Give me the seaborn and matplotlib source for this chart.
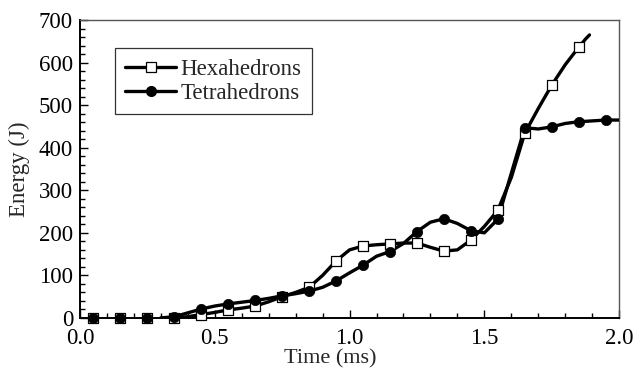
import matplotlib
matplotlib.use("Agg")
import matplotlib.pyplot as plt
from matplotlib.lines import Line2D
from matplotlib.ticker import MultipleLocator
import seaborn as sns
import pandas as pd

# ---- data ----
# marker positions (ms) and energies (J)
hex_marker_t = [0.05, 0.15, 0.25, 0.35, 0.45, 0.55, 0.65, 0.75, 0.85, 0.95,
                1.05, 1.15, 1.25, 1.35, 1.45, 1.55, 1.65, 1.75, 1.85]
hex_marker_e = [0, 0, 0, 0, 8, 19, 28, 50, 72, 134,
                169, 174, 176, 157, 183, 253, 434, 547, 636]
tet_marker_t = [0.05, 0.15, 0.25, 0.35, 0.45, 0.55, 0.65, 0.75, 0.85, 0.95,
                1.05, 1.15, 1.25, 1.35, 1.45, 1.55, 1.65, 1.75, 1.85, 1.95]
tet_marker_e = [0, 0, 0, 3, 21, 33, 41, 52, 63, 87,
                124, 156, 203, 233, 205, 232, 447, 449, 461, 465]

# curve traces (markers plus extra points read between them)
hex_line_t = [0.30, 0.35, 0.40, 0.45, 0.50, 0.55, 0.60, 0.65, 0.70, 0.75, 0.80, 0.85,
              0.90, 0.95, 1.00, 1.05, 1.10, 1.15, 1.20, 1.25, 1.30, 1.35, 1.40,
              1.45, 1.50, 1.55, 1.60, 1.65, 1.70, 1.75, 1.80, 1.85, 1.875, 1.89]
hex_line_e = [0, 0, 3, 8, 13, 19, 23, 28, 38, 50, 60, 72,
              100, 134, 160, 169, 172, 174, 176, 176, 166, 157, 160,
              183, 215, 253, 330, 434, 492, 547, 595, 636, 655, 665]
tet_line_t = [0.30, 0.35, 0.40, 0.45, 0.50, 0.55, 0.60, 0.65, 0.70, 0.75, 0.80, 0.85,
              0.90, 0.95, 1.00, 1.05, 1.10, 1.15, 1.20, 1.25, 1.30, 1.35, 1.40,
              1.45, 1.50, 1.55, 1.60, 1.65, 1.70, 1.75, 1.80, 1.85, 1.90, 1.95, 2.00]
tet_line_e = [0, 3, 12, 21, 28, 33, 37, 41, 46, 52, 57, 63,
              72, 87, 106, 124, 145, 156, 175, 203, 225, 233, 222,
              205, 200, 232, 340, 447, 444, 449, 457, 461, 463, 465, 465]

legend_labels = ["Hexahedrons", "Tetrahedrons"]

# ---- styling ----
sns.set_theme(style="white")
plt.rcParams["font.family"] = ["Liberation Serif", "DejaVu Serif"]

fig = plt.figure(figsize=(6.35, 3.71), dpi=100)
ax = fig.add_axes([0.126, 0.143, 0.849, 0.803])

lw = 2.4
df_hl = pd.DataFrame({"t": hex_line_t, "e": hex_line_e})
df_tl = pd.DataFrame({"t": tet_line_t, "e": tet_line_e})
df_hm = pd.DataFrame({"t": hex_marker_t, "e": hex_marker_e})
df_tm = pd.DataFrame({"t": tet_marker_t, "e": tet_marker_e})

sns.lineplot(data=df_tl, x="t", y="e", ax=ax, color="black", linewidth=lw,
             sort=False, estimator=None, zorder=3)
sns.lineplot(data=df_hl, x="t", y="e", ax=ax, color="black", linewidth=lw,
             sort=False, estimator=None, zorder=3)
sns.scatterplot(data=df_hm, x="t", y="e", ax=ax, marker="s", s=60,
                facecolor="white", edgecolor="black", linewidth=0.9, zorder=4,
                clip_on=False)
sns.scatterplot(data=df_tm, x="t", y="e", ax=ax, marker="o", s=55,
                color="black", edgecolor="black", linewidth=0.5, zorder=5,
                clip_on=False)

ax.set_xlim(0, 2.0)
ax.set_ylim(0, 700)
ax.xaxis.set_minor_locator(MultipleLocator(0.1))
ax.yaxis.set_major_locator(MultipleLocator(100))
ax.yaxis.set_minor_locator(MultipleLocator(20))
ax.set_xticks([0, 0.5, 1.0, 1.5, 2.0])
ax.set_xticklabels(["0.0", "0.5", "1.0", "1.5", "2.0"])
ax.tick_params(axis="both", which="both", direction="in", labelsize=16.5,
               colors="black", bottom=True, left=True, top=False, right=False)
ax.tick_params(which="major", length=6, width=1.0)
ax.tick_params(which="minor", length=3.5, width=1.0)
ax.tick_params(axis="x", pad=7)
ax.tick_params(axis="y", pad=5)

for side in ["left", "bottom"]:
    ax.spines[side].set_color("black")
    ax.spines[side].set_linewidth(1.4)
for side in ["top", "right"]:
    ax.spines[side].set_color("#555555")
    ax.spines[side].set_linewidth(1.0)

ax.set_xlabel("Time (ms)", fontsize=16)
ax.set_ylabel("Energy (J)", fontsize=16.5, labelpad=6)
ax.xaxis.set_label_coords(0.465, -0.106)

handles = [
    Line2D([], [], color="black", linewidth=lw, marker="s", markersize=7.5,
           markerfacecolor="white", markeredgecolor="black", markeredgewidth=0.9),
    Line2D([], [], color="black", linewidth=lw, marker="o", markersize=7,
           markerfacecolor="black", markeredgecolor="black"),
]
leg = ax.legend(handles, legend_labels, loc="upper left",
                bbox_to_anchor=(0.065, 0.905), fontsize=16.5, frameon=True,
                fancybox=False, edgecolor="black", handlelength=2.2,
                handletextpad=0.2, borderpad=0.45, labelspacing=0.15,
                borderaxespad=0)
leg.get_frame().set_linewidth(0.9)

fig.savefig("out.png", dpi=100)
